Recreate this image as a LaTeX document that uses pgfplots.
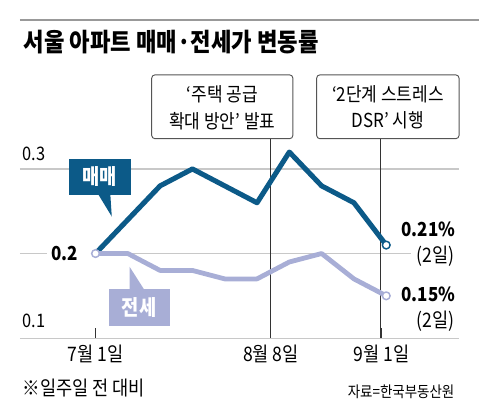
\documentclass[border=0pt]{standalone}
\usepackage{fontspec}
\setmainfont{Noto Sans CJK KR}[FakeStretch=0.88]
\usepackage{pgfplots}
\pgfplotsset{compat=1.18}
\definecolor{maeblue}{HTML}{0C5A88}
\definecolor{jeonlav}{HTML}{A8AED6}
\definecolor{gridgray}{HTML}{C8C8C8}
\definecolor{vline}{HTML}{333333}
\definecolor{boxgray}{HTML}{555555}
\begin{document}
\begin{tikzpicture}
% page frame in px (y down)
\begin{scope}[x=0.75pt,y=-0.75pt]
\path (0,0) rectangle (480,418);
\draw[gray!80,line width=1.5pt] (20,20) -- (480,20);
\node[anchor=west,font=\bfseries\fontsize{19}{21}\selectfont] at (19,42.5) {서울 아파트 매매·전세가 변동률};
% annotation boxes
\draw[boxgray,fill=white,rounded corners=2.5pt,line width=0.7pt] (152,75) rectangle (293.5,139);
\node[font=\fontsize{14.5}{16}\selectfont] at (222.7,94) {‘주택 공급};
\node[font=\fontsize{14.5}{16}\selectfont] at (222.7,121) {확대 방안’ 발표};
\draw[boxgray,fill=white,rounded corners=2.5pt,line width=0.7pt] (317.3,75) rectangle (460,139);
\node[font=\fontsize{14.5}{16}\selectfont] at (388.7,94) {‘2단계 스트레스};
\node[font=\fontsize{14.5}{16}\selectfont] at (388.7,121) {DSR’ 시행};
% y labels
\node[anchor=west,font=\fontsize{14}{16}\selectfont] at (18,154) {0.3};
\node[anchor=west,font=\fontsize{14}{16}\selectfont] at (18,321.5) {0.1};
\node[font=\bfseries\fontsize{14.5}{17}\selectfont] at (64.5,254) {0.2};
% right labels
\node[anchor=east,font=\bfseries\fontsize{14.5}{18}\selectfont] at (461,230) {0.21\%};
\node[anchor=east,font=\fontsize{15}{17}\selectfont] at (460,257) {(2일)};
\node[anchor=east,font=\bfseries\fontsize{14.5}{18}\selectfont] at (461,294.5) {0.15\%};
\node[anchor=east,font=\fontsize{15}{17}\selectfont] at (460,322) {(2일)};
% footnotes
\node[anchor=west,font=\fontsize{15}{17}\selectfont] at (18,389) {※일주일 전 대비};
\node[anchor=east,font=\fontsize{11.5}{13}\selectfont] at (460,392.5) {자료=한국부동산원};
% gridlines
\draw[gridgray,line width=0.9pt] (20,169.3) -- (460,169.3);
\draw[gridgray,line width=0.9pt] (20,254.3) -- (47,254.3);
\draw[gridgray,line width=0.9pt] (95.7,254.3) -- (411.7,254.3);
% event lines
\draw[vline,line width=0.75pt] (270.7,139) -- (270.7,338.8);
\draw[vline,line width=0.75pt] (381.7,139) -- (381.7,338.8);
\end{scope}
\begin{axis}[
  at={(15pt,-254.1pt)}, anchor=south west,
  scale only axis, width=330pt, height=127.125pt,
  xmin=-2.339, xmax=11.254, ymin=0.1, ymax=0.3,
  clip=false,
  axis y line=none,
  axis x line=bottom,
  axis line style={draw=gridgray,line width=0.9pt,-},
  xtick={0,5.4286,8.857},
  xticklabels={7월 1일,8월 8일,9월 1일},
  xticklabel style={font=\fontsize{15}{17}\selectfont,yshift=-1.5pt},
  tick align=inside,
  major tick length=7.5pt,
  tick style={vline,line width=0.75pt},
  ytick=\empty,
]
\addplot[maeblue,line width=3.8pt,line join=round,
  mark=*,mark indices={10},mark size=2.9pt,
  mark options={fill=white,draw=maeblue,line width=1.1pt}]
  coordinates {(0,0.20)(1,0.24)(2,0.28)(3,0.30)(4,0.28)(5,0.26)(6,0.32)(7,0.28)(8,0.26)(9,0.21)};
\addplot[jeonlav,line width=3.6pt,line join=round,
  mark=*,mark indices={1,10},mark size=2.9pt,
  mark options={fill=white,draw=jeonlav,line width=1.1pt}]
  coordinates {(0,0.20)(1,0.20)(2,0.18)(3,0.18)(4,0.17)(5,0.17)(6,0.19)(7,0.20)(8,0.17)(9,0.15)};
\end{axis}
\begin{scope}[x=0.75pt,y=-0.75pt]
% series labels
\fill[maeblue] (69,159) rectangle (131,195);
\fill[maeblue] (98,194) -- (110.5,194) -- (112,217) -- cycle;
\node[text=white,font=\bfseries\fontsize{16}{18}\selectfont] at (100,177) {매매};
\fill[jeonlav] (109,290) rectangle (170,326.7);
\fill[jeonlav] (130,267.5) -- (130,291) -- (145,291) -- cycle;
\node[text=white,font=\bfseries\fontsize{16}{18}\selectfont] at (139.5,308.5) {전세};
\end{scope}
\end{tikzpicture}
\end{document}
